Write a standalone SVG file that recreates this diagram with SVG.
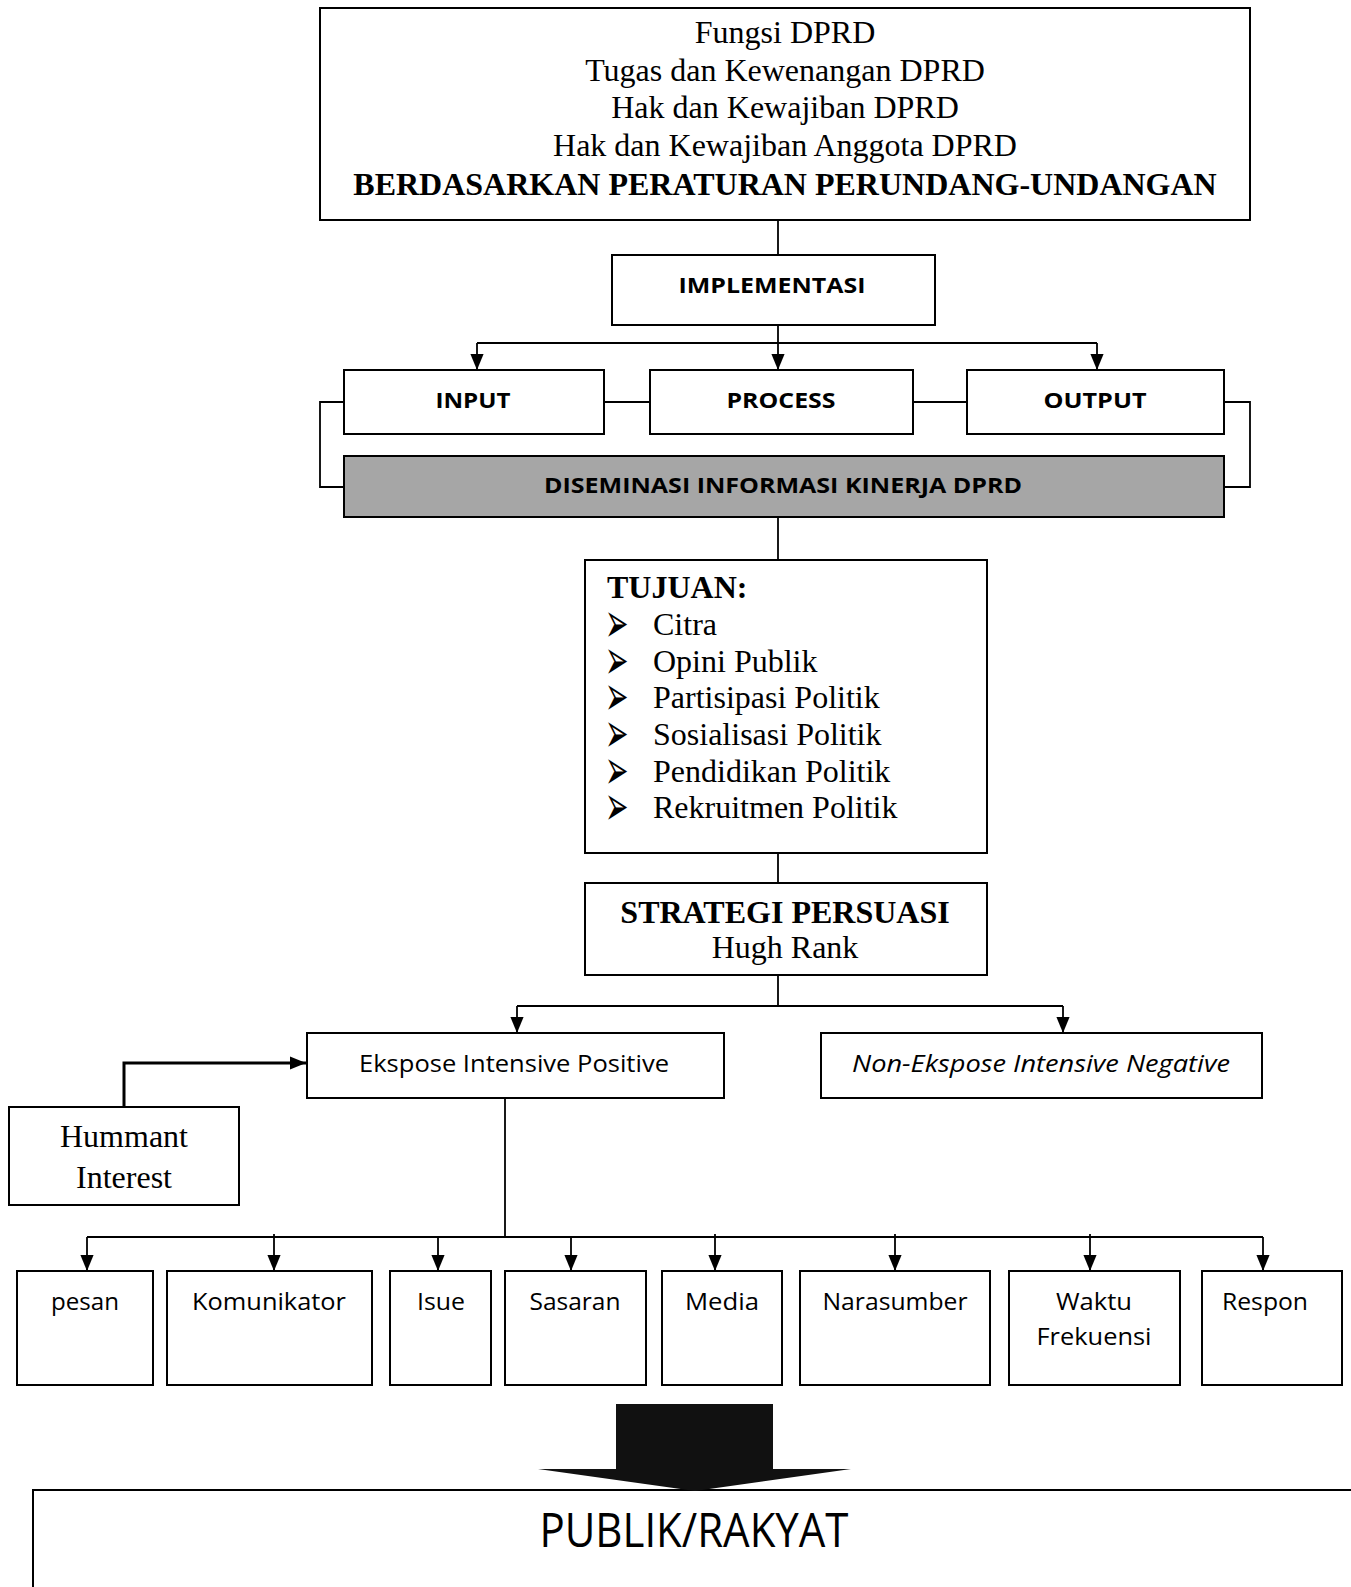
<svg xmlns="http://www.w3.org/2000/svg" width="1351" height="1587" viewBox="0 0 1351 1587">
<style>
.box{fill:#fff;stroke:#000;stroke-width:2}
.gray{fill:#a6a6a6;stroke:#000;stroke-width:2}
.ln{fill:none;stroke:#000;stroke-width:1.8}
.serif{font-family:"Liberation Serif","Times New Roman",serif;font-size:32px;fill:#000}
.b{font-weight:bold}
.sans{font-family:"Open Sans","Noto Sans",sans-serif;fill:#000}
.sb{font-family:"Open Sans","Noto Sans",sans-serif;font-weight:bold;font-size:22px;fill:#000}
.sr{font-family:"Open Sans","Noto Sans",sans-serif;font-size:23px;fill:#000}
.bul{font-family:"DejaVu Sans",sans-serif;font-size:28px;fill:#000}
</style>
<defs>
<marker id="ah" markerUnits="userSpaceOnUse" markerWidth="16" markerHeight="17" viewBox="0 0 17 16" refX="17" refY="8" orient="auto">
<path d="M0,1 L17,8 L0,15 Z" fill="#000"/>
</marker>
</defs>
<rect width="1351" height="1587" fill="#fff"/>

<g id="connectors">
<path class="ln" d="M778,220 V255"/>
<path class="ln" d="M477,343 H1097"/>
<path class="ln" d="M477,343 V370" marker-end="url(#ah)"/>
<path class="ln" d="M778,325 V370" marker-end="url(#ah)"/>
<path class="ln" d="M1097,343 V370" marker-end="url(#ah)"/>
<path class="ln" d="M604,402 H650"/>
<path class="ln" d="M913,402 H967"/>
<path class="ln" d="M344,402 H320 V487 H344"/>
<path class="ln" d="M1224,402 H1250 V487 H1224"/>
<path class="ln" d="M778,517 V560"/>
<path class="ln" d="M778,853 V883"/>
<path class="ln" d="M778,975 V1006"/>
<path class="ln" d="M517,1006 H1063"/>
<path class="ln" d="M517,1006 V1033" marker-end="url(#ah)"/>
<path class="ln" d="M1063,1006 V1033" marker-end="url(#ah)"/>
<path class="ln" style="stroke-width:3" d="M124,1107 V1063 H306" marker-end="url(#ah)"/>
<path class="ln" d="M505,1098 V1237"/>
<path class="ln" d="M87,1237 H1263"/>
<path class="ln" d="M87,1237 V1271" marker-end="url(#ah)"/>
<path class="ln" d="M274,1234 V1271" marker-end="url(#ah)"/>
<path class="ln" d="M438,1237 V1271" marker-end="url(#ah)"/>
<path class="ln" d="M571,1237 V1271" marker-end="url(#ah)"/>
<path class="ln" d="M715,1234 V1271" marker-end="url(#ah)"/>
<path class="ln" d="M895,1234 V1271" marker-end="url(#ah)"/>
<path class="ln" d="M1090,1234 V1271" marker-end="url(#ah)"/>
<path class="ln" d="M1263,1237 V1271" marker-end="url(#ah)"/>
</g>

<g id="dasar">
<rect class="box" x="320" y="8" width="930" height="212"/>
<text class="serif" x="785" y="43" text-anchor="middle">Fungsi DPRD</text>
<text class="serif" x="785" y="81" text-anchor="middle">Tugas dan Kewenangan DPRD</text>
<text class="serif" x="785" y="118" text-anchor="middle">Hak dan Kewajiban DPRD</text>
<text class="serif" x="785" y="156" text-anchor="middle">Hak dan Kewajiban Anggota DPRD</text>
<text class="serif b" x="785" y="195" text-anchor="middle">BERDASARKAN PERATURAN PERUNDANG-UNDANGAN</text>
</g>

<g id="implementasi">
<rect class="box" x="612" y="255" width="323" height="70"/>
<text class="sb" x="772" y="293" text-anchor="middle" textLength="187" lengthAdjust="spacingAndGlyphs">IMPLEMENTASI</text>
</g>
<g id="input">
<rect class="box" x="344" y="370" width="260" height="64"/>
<text class="sb" x="473" y="408" text-anchor="middle" textLength="75" lengthAdjust="spacingAndGlyphs">INPUT</text>
</g>
<g id="process">
<rect class="box" x="650" y="370" width="263" height="64"/>
<text class="sb" x="781" y="408" text-anchor="middle" textLength="109" lengthAdjust="spacingAndGlyphs">PROCESS</text>
</g>
<g id="output">
<rect class="box" x="967" y="370" width="257" height="64"/>
<text class="sb" x="1095" y="408" text-anchor="middle" textLength="103" lengthAdjust="spacingAndGlyphs">OUTPUT</text>
</g>
<g id="diseminasi">
<rect class="gray" x="344" y="456" width="880" height="61"/>
<text class="sb" x="783" y="493" text-anchor="middle" textLength="478" lengthAdjust="spacingAndGlyphs">DISEMINASI INFORMASI KINERJA DPRD</text>
</g>

<g id="tujuan">
<rect class="box" x="585" y="560" width="402" height="293"/>
<text class="serif b" x="607" y="598">TUJUAN:</text>
<text class="bul" transform="scale(1,2)"><tspan x="605" y="321">➢</tspan><tspan x="605" y="339.5">➢</tspan><tspan x="605" y="357.5">➢</tspan><tspan x="605" y="376">➢</tspan><tspan x="605" y="394.5">➢</tspan><tspan x="605" y="412.5">➢</tspan></text>
<text class="serif" x="653" y="635">Citra</text>
<text class="serif" x="653" y="672">Opini Publik</text>
<text class="serif" x="653" y="708">Partisipasi Politik</text>
<text class="serif" x="653" y="745">Sosialisasi Politik</text>
<text class="serif" x="653" y="782">Pendidikan Politik</text>
<text class="serif" x="653" y="818">Rekruitmen Politik</text>
</g>

<g id="strategi">
<rect class="box" x="585" y="883" width="402" height="92"/>
<text class="serif b" x="785" y="923" text-anchor="middle">STRATEGI PERSUASI</text>
<text class="serif" x="785" y="958" text-anchor="middle">Hugh Rank</text>
</g>

<g id="ekspose-positive">
<rect class="box" x="307" y="1033" width="417" height="65"/>
<text class="sr" x="514" y="1072" text-anchor="middle" textLength="310" lengthAdjust="spacingAndGlyphs">Ekspose Intensive Positive</text>
</g>
<g id="non-ekspose-negative">
<rect class="box" x="821" y="1033" width="441" height="65"/>
<text class="sr" x="1041" y="1072" text-anchor="middle" font-style="italic" textLength="378" lengthAdjust="spacingAndGlyphs">Non-Ekspose Intensive Negative</text>
</g>
<g id="hummant-interest">
<rect class="box" x="9" y="1107" width="230" height="98"/>
<text class="serif" x="124" y="1147" text-anchor="middle">Hummant</text>
<text class="serif" x="124" y="1188" text-anchor="middle">Interest</text>
</g>

<g id="pesan">
<rect class="box" x="17" y="1271" width="136" height="114"/>
<text class="sr" x="85" y="1310" text-anchor="middle" textLength="68" lengthAdjust="spacingAndGlyphs">pesan</text>
</g>
<g id="komunikator">
<rect class="box" x="167" y="1271" width="205" height="114"/>
<text class="sr" x="269" y="1310" text-anchor="middle" textLength="154" lengthAdjust="spacingAndGlyphs">Komunikator</text>
</g>
<g id="isue">
<rect class="box" x="390" y="1271" width="101" height="114"/>
<text class="sr" x="441" y="1310" text-anchor="middle" textLength="48" lengthAdjust="spacingAndGlyphs">Isue</text>
</g>
<g id="sasaran">
<rect class="box" x="505" y="1271" width="141" height="114"/>
<text class="sr" x="575" y="1310" text-anchor="middle" textLength="91" lengthAdjust="spacingAndGlyphs">Sasaran</text>
</g>
<g id="media">
<rect class="box" x="662" y="1271" width="120" height="114"/>
<text class="sr" x="722" y="1310" text-anchor="middle" textLength="74" lengthAdjust="spacingAndGlyphs">Media</text>
</g>
<g id="narasumber">
<rect class="box" x="800" y="1271" width="190" height="114"/>
<text class="sr" x="895" y="1310" text-anchor="middle" textLength="145" lengthAdjust="spacingAndGlyphs">Narasumber</text>
</g>
<g id="waktu-frekuensi">
<rect class="box" x="1009" y="1271" width="171" height="114"/>
<text class="sr" x="1094" y="1310" text-anchor="middle" textLength="76" lengthAdjust="spacingAndGlyphs">Waktu</text>
<text class="sr" x="1094" y="1345" text-anchor="middle" textLength="115" lengthAdjust="spacingAndGlyphs">Frekuensi</text>
</g>
<g id="respon">
<rect class="box" x="1202" y="1271" width="140" height="114"/>
<text class="sr" x="1265" y="1310" text-anchor="middle" textLength="86" lengthAdjust="spacingAndGlyphs">Respon</text>
</g>

<g id="publik-rakyat">
<rect class="box" x="33" y="1490" width="1340" height="130"/>
<text class="sans" x="694" y="1547" font-size="48" text-anchor="middle" textLength="309" lengthAdjust="spacingAndGlyphs">PUBLIK/RAKYAT</text>
</g>
<g id="block-arrow">
<polygon points="616,1404 773,1404 773,1469 851,1469 695,1491 538,1469 616,1469" fill="#111"/>
</g>
</svg>
